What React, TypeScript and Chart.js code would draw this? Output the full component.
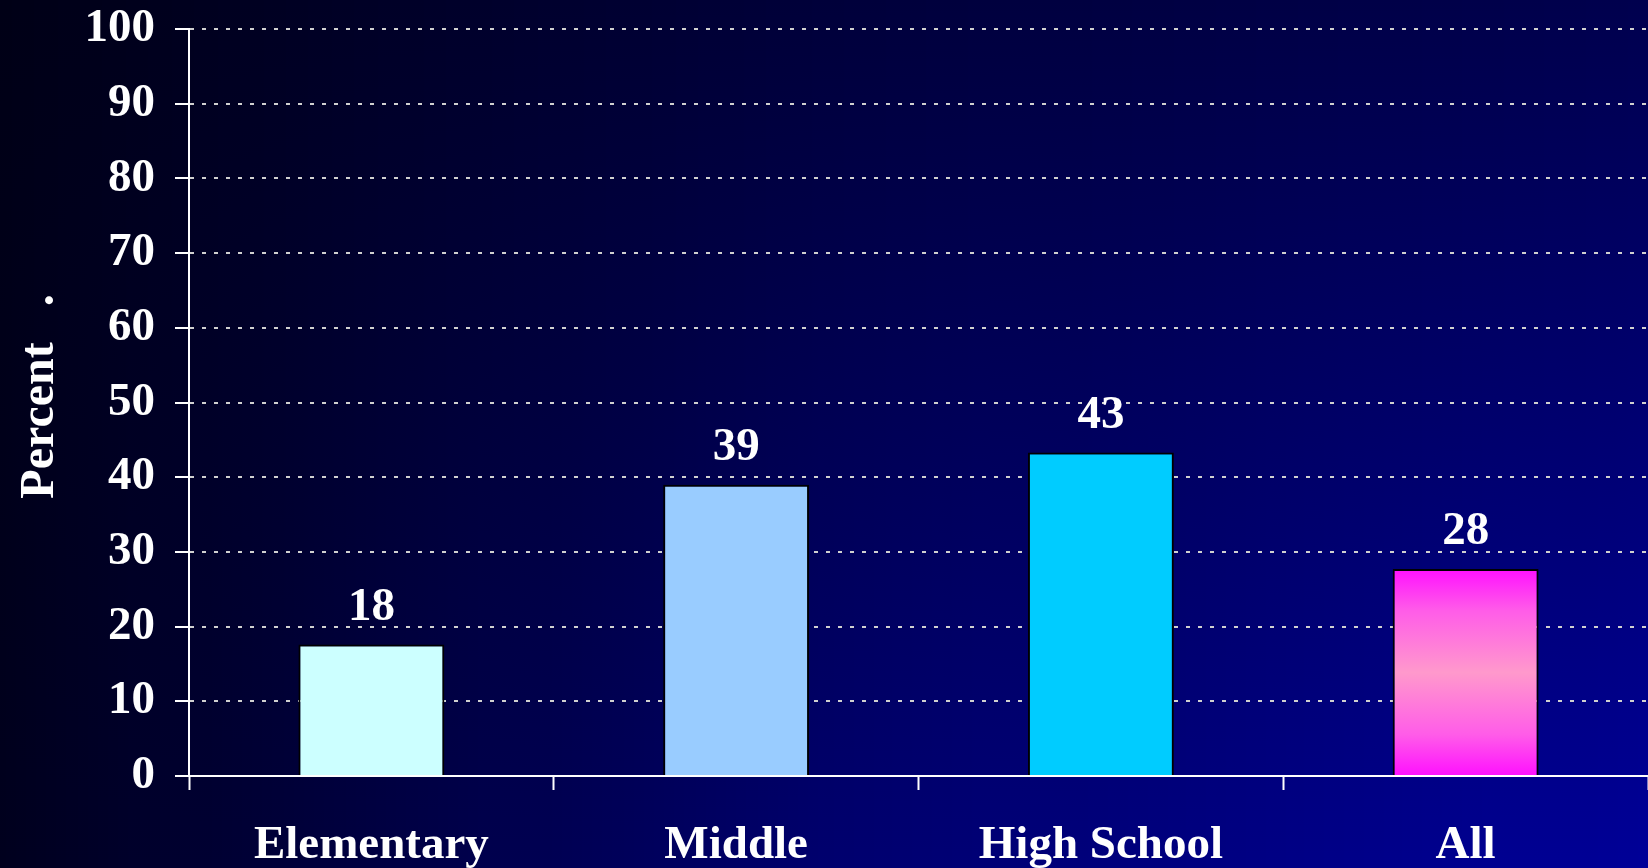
import React, { useEffect, useRef } from "react";
import { Chart, registerables } from "chart.js";

Chart.register(...registerables);

// ---- data ----
const categories = ["Elementary", "Middle", "High School", "All"];
const percentValues = [17.6, 39.0, 43.3, 27.7];
const valueLabels = ["18", "39", "43", "28"];
const yMin = 0;
const yMax = 100;
const yStep = 10;
const yTitle = " Percent   .";

// ---- styles ----
const barColors = ["#CCFFFF", "#99CCFF", "#00CCFF", "#FF99CC"];
const FONT = "'Liberation Serif', 'Times New Roman', serif";
const W = 1648;
const H = 868;

const bgTop: [number, number][] = [[0, 22], [0.5, 58], [1, 78]];
const bgBottom: [number, number][] = [[0, 30], [0.5, 110], [1, 152]];

function interp(pts: [number, number][], t: number) {
  for (let i = 0; i < pts.length - 1; i++) {
    const [t0, v0] = pts[i];
    const [t1, v1] = pts[i + 1];
    if (t >= t0 && t <= t1) return v0 + ((v1 - v0) * (t - t0)) / (t1 - t0);
  }
  return pts[pts.length - 1][1];
}

const backgroundPlugin = {
  id: "bgGradient",
  beforeDraw(chart: any) {
    const { ctx, width, height } = chart;
    ctx.save();
    for (let x = 0; x < width; x += 2) {
      const t = (x + 1) / width;
      const g = ctx.createLinearGradient(0, 0, 0, height);
      g.addColorStop(0, `rgb(0,0,${Math.round(interp(bgTop, t))})`);
      g.addColorStop(1, `rgb(0,0,${Math.round(interp(bgBottom, t))})`);
      ctx.fillStyle = g;
      ctx.fillRect(x, 0, 2, height);
    }
    ctx.restore();
  },
};

const valueLabelPlugin = {
  id: "valueLabels",
  afterDatasetsDraw(chart: any) {
    const { ctx } = chart;
    const meta = chart.getDatasetMeta(0);
    ctx.save();
    ctx.font = `bold 47px ${FONT}`;
    ctx.fillStyle = "#FFFFFF";
    ctx.textAlign = "center";
    ctx.textBaseline = "alphabetic";
    meta.data.forEach((bar: any, i: number) => {
      ctx.fillText(valueLabels[i], bar.x, bar.y - 25);
    });
    ctx.restore();
  },
};

export default function App() {
  const canvasRef = useRef<HTMLCanvasElement | null>(null);

  useEffect(() => {
    document.body.style.margin = "0";
    document.body.style.overflow = "hidden";
    const canvas = canvasRef.current;
    if (!canvas) return;
    const chart = new Chart(canvas, {
      type: "bar",
      data: {
        labels: categories,
        datasets: [
          {
            data: percentValues,
            backgroundColor: (c: any) => {
              if (c.type !== "data") return barColors[0];
              const i = c.dataIndex;
              if (i !== 3) return barColors[i];
              const ch = c.chart;
              const ys = ch.scales && ch.scales.y;
              if (!ys || !ch.chartArea) return barColors[3];
              const top = ys.getPixelForValue(percentValues[i]);
              const bottom = ys.getPixelForValue(0);
              if (!isFinite(top) || !isFinite(bottom)) return barColors[3];
              const g = ch.ctx.createLinearGradient(0, top, 0, bottom);
              g.addColorStop(0, "#FF10FF");
              g.addColorStop(0.2, "#FF5CE8");
              g.addColorStop(0.5, "#FF99CC");
              g.addColorStop(0.8, "#FF5CE8");
              g.addColorStop(1, "#FF10FF");
              return g;
            },
            borderColor: "#000000",
            borderWidth: 2,
            barPercentage: 0.4,
            categoryPercentage: 1,
          },
        ],
      },
      options: {
        responsive: false,
        animation: false,
        layout: { padding: { top: 29, left: 0, right: 0, bottom: 0 } },
        plugins: {
          legend: { display: false },
          tooltip: { enabled: false },
        },
        scales: {
          x: {
            offset: true,
            grid: {
              display: true,
              drawOnChartArea: false,
              drawTicks: true,
              tickLength: 14,
              tickColor: "#FFFFFF",
              tickWidth: 2,
              offset: true,
            },
            border: { display: true, color: "#FFFFFF", width: 2 },
            ticks: {
              color: "#FFFFFF",
              font: { family: FONT, size: 47, weight: "bold", lineHeight: 1 },
              padding: 32,
              maxRotation: 0,
              autoSkip: false,
            },
            afterFit: (s: any) => {
              s.height = 92;
              s.paddingLeft = 0;
              s.paddingRight = 0;
            },
          },
          y: {
            min: yMin,
            max: yMax,
            ticks: {
              stepSize: yStep,
              color: "#FFFFFF",
              font: { family: FONT, size: 47, weight: "bold", lineHeight: 1 },
              padding: 20,
            },
            grid: {
              color: "#D0D0D0",
              lineWidth: 2,
              drawTicks: true,
              tickLength: 14,
              tickColor: "#FFFFFF",
              tickWidth: 2,
            },
            border: { display: true, color: "#FFFFFF", width: 2, dash: [4, 8] },
            title: {
              display: true,
              text: yTitle,
              color: "#FFFFFF",
              font: { family: FONT, size: 48, weight: "bold", lineHeight: 1 },
              padding: { top: 17, bottom: 0 },
            },
            afterFit: (s: any) => {
              s.width = 189;
              s.paddingTop = 0;
              s.paddingBottom = 0;
            },
          },
        },
      },
      plugins: [backgroundPlugin, valueLabelPlugin],
    } as any);
    return () => chart.destroy();
  }, []);

  return (
    <div style={{ position: "fixed", left: 0, top: 0, width: W, height: H }}>
      <canvas ref={canvasRef} width={W} height={H} style={{ display: "block" }} />
    </div>
  );
}
